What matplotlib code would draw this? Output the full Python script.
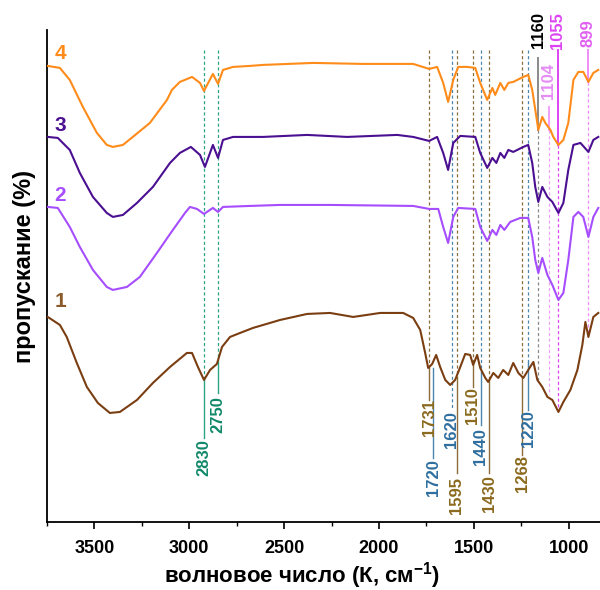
import matplotlib
matplotlib.use("Agg")
import matplotlib.pyplot as plt
import numpy as np

plt.rcParams["font.family"] = ["Liberation Sans", "DejaVu Sans"]
plt.rcParams["font.weight"] = "bold"
plt.rcParams["mathtext.fontset"] = "custom"
plt.rcParams["mathtext.rm"] = "Liberation Sans:bold"
plt.rcParams["mathtext.bf"] = "Liberation Sans:bold"

# spectra, wavenumber (cm-1) vs transmittance (a.u., stacked)
wn_4 = [3745, 3681, 3629, 3560, 3486, 3434, 3402, 3349, 3297, 3207, 3117, 3091, 3049, 2985,
        2943, 2922, 2875, 2848, 2822, 2769, 2680, 2611, 2347, 2084, 1820, 1736, 1694, 1662,
        1636, 1609, 1583, 1535, 1493, 1467, 1430, 1403, 1388, 1361, 1340, 1319, 1293, 1240,
        1214, 1193, 1171, 1161, 1140, 1124, 1097, 1082, 1055, 1029, 1003, 976, 950, 924,
        897, 871, 845]
t_4 = [456, 454, 442, 415, 389, 377, 375, 377, 385, 399, 422, 432, 440, 445,
       439, 431, 448, 438, 452, 455, 456, 457, 459, 458, 458, 453, 455, 439,
       420, 442, 455, 455, 454, 439, 422, 434, 427, 439, 432, 439, 440, 445,
       447, 432, 405, 392, 405, 399, 392, 385, 377, 382, 399, 442, 450, 450,
       440, 449, 452]

wn_3 = [3745, 3692, 3629, 3576, 3507, 3434, 3402, 3349, 3275, 3191, 3101, 3049, 2991, 2943,
        2917, 2875, 2848, 2822, 2769, 2611, 2379, 2168, 1904, 1820, 1736, 1694, 1662, 1636,
        1609, 1572, 1493, 1467, 1430, 1403, 1382, 1361, 1340, 1319, 1293, 1240, 1214, 1193,
        1177, 1161, 1140, 1113, 1087, 1055, 1029, 1003, 976, 939, 897, 871, 845]
t_3 = [385, 384, 372, 349, 325, 309, 305, 307, 319, 335, 359, 369, 375, 367,
       355, 377, 364, 382, 385, 385, 387, 385, 387, 385, 381, 385, 369, 352,
       379, 386, 385, 369, 354, 364, 359, 369, 364, 372, 370, 375, 377, 359,
       335, 320, 335, 325, 320, 309, 319, 352, 377, 379, 370, 382, 385]

wn_2 = [3745, 3692, 3629, 3576, 3507, 3434, 3402, 3328, 3260, 3170, 3086, 3022, 2996, 2959,
        2922, 2875, 2848, 2822, 2680, 2521, 2258, 1820, 1736, 1688, 1662, 1636, 1609, 1583,
        1493, 1467, 1430, 1403, 1382, 1361, 1340, 1309, 1256, 1214, 1193, 1177, 1161, 1140,
        1113, 1087, 1055, 1029, 1003, 976, 950, 924, 897, 871, 845]
t_2 = [315, 314, 295, 275, 252, 235, 232, 235, 245, 269, 292, 309, 315, 313,
       308, 314, 310, 315, 316, 317, 317, 316, 313, 313, 295, 279, 305, 314,
       313, 295, 281, 292, 287, 297, 292, 300, 304, 304, 285, 262, 249, 264,
       247, 237, 222, 229, 262, 305, 310, 305, 285, 305, 314]

wn_1 = [3745, 3681, 3645, 3592, 3539, 3481, 3418, 3365, 3275, 3191, 3101, 3012, 2985, 2954,
        2922, 2890, 2854, 2827, 2785, 2732, 2664, 2521, 2379, 2258, 2136, 1994, 1873, 1820,
        1783, 1757, 1741, 1720, 1699, 1678, 1651, 1625, 1599, 1572, 1546, 1520, 1504, 1483,
        1467, 1440, 1425, 1398, 1372, 1346, 1319, 1293, 1266, 1240, 1214, 1187, 1166, 1140,
        1113, 1087, 1055, 1029, 992, 955, 929, 913, 897, 871, 845]
t_1 = [205, 197, 185, 159, 135, 119, 109, 110, 122, 139, 155, 169, 169, 155,
       142, 152, 158, 175, 185, 189, 194, 202, 208, 209, 205, 209, 209, 204,
       192, 169, 154, 158, 167, 155, 142, 137, 142, 155, 168, 167, 157, 167,
       154, 144, 140, 149, 144, 152, 147, 159, 149, 144, 152, 160, 142, 135,
       125, 122, 110, 120, 132, 152, 177, 200, 185, 205, 209]

series = [
    ("1", wn_1, t_1, "#7a3e12", "#8b5a2b", 220),
    ("2", wn_2, t_2, "#a64dff", "#a64dff", 326),
    ("3", wn_3, t_3, "#4b0f91", "#4b0f91", 396),
    ("4", wn_4, t_4, "#ff8c1a", "#ff8c1a", 468),
]

# peak markers below the curves: line position, label, colour group,
# end of dashed part, solid leader span, label centre
low_pos = [2922, 2848, 1736, 1715, 1618, 1590, 1506, 1465, 1419, 1245, 1213]
low_txt = ["2830", "2750", "1731", "1720", "1620", "1595", "1510", "1440", "1430", "1268", "1220"]
low_grp = ["g", "g", "b", "s", "s", "b", "b", "s", "b", "b", "s"]
low_dash = [142, 159, 154, None, 114, 145, 157, 150, 142, 144, 160]
low_lead = [84, 129, 122, 64, None, 49, 135, 97, 49, 67, 112]
low_lead_top = [142, 159, 154, 154, None, 145, 157, 150, 142, 144, 160]
low_y = [64, 107, 104, 44, 92, 26, 116, 75, 28, 48, 93]

# peak markers above the curves
top_pos = [1161, 1105, 1059, 897]
top_txt = ["1160", "1104", "1055", "899"]
top_txt_col = ["black", "#e68cf5", "#dd44f2", "#e060f2"]
top_line_col = ["#8a8a8a", "#f0a0f8", "#dd44f2", "#f08cf8"]
top_solid = [(464, 392), (415, 392), (472, 377), (472, 440)]
top_dash_end = [142, 127, 112, 185]
top_y = [492, 441, 491, 489]

grp_text = {"g": "#12896b", "b": "#8b6a1e", "s": "#2f6f9f"}
grp_line = {"g": "#2aa580", "b": "#8c6d3a", "s": "#4a86b0"}

fig = plt.figure(figsize=(6, 5.9), dpi=100)
ax = fig.add_axes([0.078, 0.1153, 0.922, 0.834])

for i, x in enumerate(low_pos):
    c = grp_line[low_grp[i]]
    if low_dash[i] is not None:
        ax.plot([x, x], [472, low_dash[i]], ls=(0, (2.5, 2)), lw=0.9, color=c, zorder=1)
    if low_lead[i] is not None:
        ax.plot([x, x], [low_lead_top[i], low_lead[i]], lw=1.0, color=c, zorder=1)
    ax.text(x, low_y[i], low_txt[i], rotation=90, ha="center", va="center",
            color=grp_text[low_grp[i]], fontsize=12, fontweight="bold")

for i, x in enumerate(top_pos):
    ax.plot([x, x], list(top_solid[i]), lw=1.4, color=top_line_col[i], zorder=1)
    ax.plot([x, x], [top_solid[i][1], top_dash_end[i]], ls=(0, (2.5, 2)), lw=0.9,
            color=top_line_col[i], zorder=1)
    ax.text(x, top_y[i], top_txt[i], rotation=90, ha="center", va="center",
            color=top_txt_col[i], fontsize=12, fontweight="bold", clip_on=False)

for name, w, t, c, lc, ly in series:
    ax.plot(w, t, color=c, lw=1.5, zorder=3)
    ax.text(3680, ly, name, color=lc, fontsize=15, fontweight="bold", ha="center", va="center")

ax.set_xlim(3750, 836)
ax.set_ylim(0, 492)
ax.set_yticks([])
ax.set_xticks([3500, 3000, 2500, 2000, 1500, 1000])
ax.set_xticks(np.arange(3750, 800, -250), minor=True)
ax.tick_params(axis="x", which="major", direction="out", length=5, width=1.2,
               labelsize=13, pad=8)
ax.tick_params(axis="x", which="minor", direction="out", length=3, width=1.0)
ax.spines["top"].set_visible(False)
ax.spines["right"].set_visible(False)
ax.spines["left"].set_linewidth(1.3)
ax.spines["bottom"].set_linewidth(1.3)
ax.set_xlabel("волновое число (К, см$^{-1}$)", fontsize=16, fontweight="bold")
ax.xaxis.set_label_coords(0.461, -0.077)
ax.set_ylabel("пропускание (%)", fontsize=17, fontweight="bold")
ax.yaxis.set_label_coords(-0.02, 0.52)

fig.savefig("out.png", dpi=100)
